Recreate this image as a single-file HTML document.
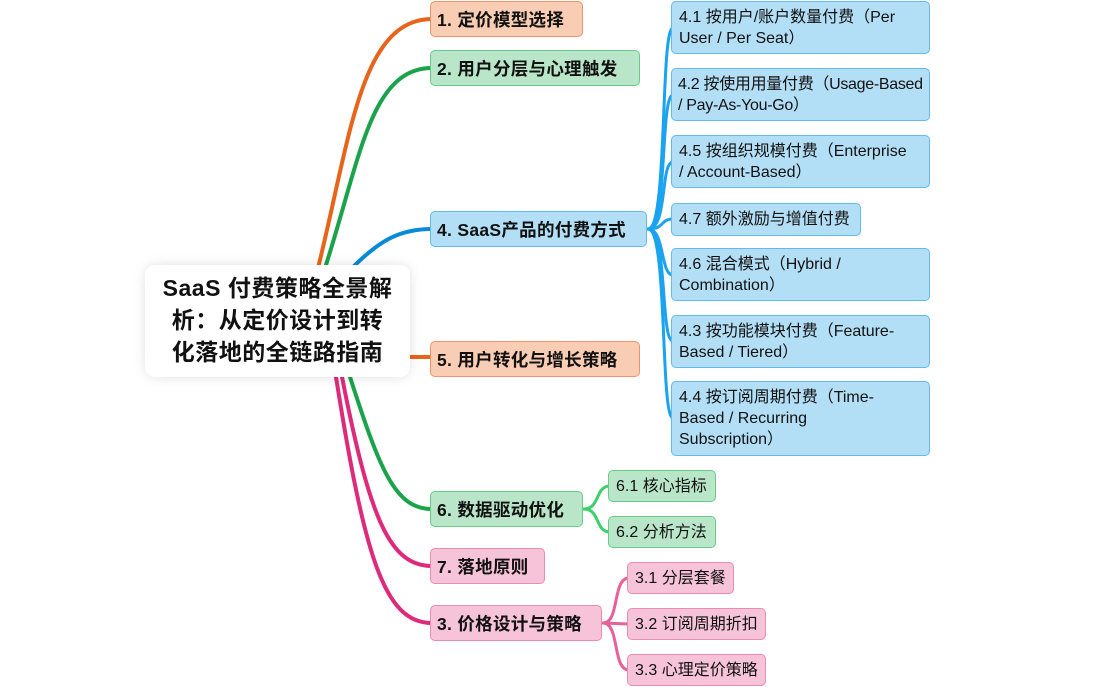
<!DOCTYPE html>
<html><head><meta charset="utf-8"><style>
body{margin:0;width:1098px;height:687px;background:#fff;position:relative;overflow:hidden;font-family:"Liberation Sans","Noto Sans CJK SC",sans-serif;}
.n{position:absolute;box-sizing:border-box;border-radius:5px;border:1.5px solid;color:#111;display:flex;align-items:center;white-space:nowrap;}
.l1{font-weight:bold;font-size:17.5px;padding-left:6px;letter-spacing:0.3px;}
.c{font-size:16px;line-height:21px;padding:0 7px;letter-spacing:0;}
.o{background:#f9cdb4;border-color:#f0936a}
.g{background:#b9e6c9;border-color:#66cc88}
.b{background:#b3dff6;border-color:#62bbea}
.p{background:#f6c3d8;border-color:#e98bb3}
svg{position:absolute;left:0;top:0}
</style></head><body>
<svg width="1098" height="687" fill="none" stroke-linecap="round">
<g stroke-width="4">
<path d="M318 268 C 350 140, 360 19, 432 19" stroke="#e8641c"/>
<path d="M325 268 C 360 160, 370 68, 432 68" stroke="#1aa34a"/>
<path d="M352 268 C 380 240, 400 229, 432 229" stroke="#0a8ad6"/>
<path d="M410 357 L432 357" stroke="#e8641c"/>
<path d="M350 377 C 380 470, 395 509, 432 509" stroke="#1aa34a"/>
<path d="M342 377 C 370 520, 390 566, 432 566" stroke="#de2a7a"/>
<path d="M336 377 C 365 560, 385 623, 432 623" stroke="#de2a7a"/>
</g>
<g stroke="#1aa3ee" stroke-width="3">
<path d="M648 229 C 668 229, 660 28, 673 28"/>
<path d="M648 229 C 668 229, 660 95, 673 95"/>
<path d="M648 229 C 668 229, 660 162, 673 162"/>
<path d="M648 229 C 665 229, 660 219, 673 219"/>
<path d="M648 229 C 665 229, 660 275, 673 275"/>
<path d="M648 229 C 668 229, 660 341, 673 341"/>
<path d="M648 229 C 668 229, 660 418, 673 418"/>
</g>
<g stroke="#3ccf6a" stroke-width="3">
<path d="M584 509 C 600 509, 595 486, 610 486"/>
<path d="M584 509 C 600 509, 595 532, 610 532"/>
</g>
<g stroke="#e8609a" stroke-width="3">
<path d="M603 623 C 620 623, 612 578, 629 578"/>
<path d="M603 623 L629 624"/>
<path d="M603 623 C 620 623, 612 670, 629 670"/>
</g>
</svg>
<div style="position:absolute;left:145px;top:265px;width:265px;height:112px;background:#fff;border-radius:10px;box-shadow:0 0 12px rgba(0,0,0,0.12);font-weight:bold;font-size:23px;line-height:32px;text-align:center;padding-top:7px;box-sizing:border-box;color:#111;letter-spacing:0.5px">SaaS 付费策略全景解<br>析：从定价设计到转<br>化落地的全链路指南</div>
<div class="n l1 o" style="left:430px;top:1px;width:153px;height:36px">1. 定价模型选择</div>
<div class="n l1 g" style="left:430px;top:50px;width:210px;height:36px">2. 用户分层与心理触发</div>
<div class="n l1 b" style="left:430px;top:211px;width:217px;height:36px">4. SaaS产品的付费方式</div>
<div class="n l1 o" style="left:430px;top:341px;width:210px;height:36px">5. 用户转化与增长策略</div>
<div class="n l1 g" style="left:430px;top:491px;width:153px;height:36px">6. 数据驱动优化</div>
<div class="n l1 p" style="left:430px;top:548px;width:115px;height:36px">7. 落地原则</div>
<div class="n l1 p" style="left:430px;top:605px;width:172px;height:36px">3. 价格设计与策略</div>
<div class="n c b" style="left:671px;top:1px;width:259px;height:53px">4.1 按用户/账户数量付费（Per<br>User / Per Seat）</div>
<div class="n c b" style="left:671px;top:68px;width:259px;height:53px;padding:0 4px 0 6px;letter-spacing:-0.3px">4.2 按使用用量付费（Usage-Based<br>/ Pay-As-You-Go）</div>
<div class="n c b" style="left:671px;top:135px;width:259px;height:53px">4.5 按组织规模付费（Enterprise<br>/ Account-Based）</div>
<div class="n c b" style="left:671px;top:203px;width:190px;height:33px">4.7 额外激励与增值付费</div>
<div class="n c b" style="left:671px;top:248px;width:259px;height:53px">4.6 混合模式（Hybrid /<br>Combination）</div>
<div class="n c b" style="left:671px;top:315px;width:259px;height:53px">4.3 按功能模块付费（Feature-<br>Based / Tiered）</div>
<div class="n c b" style="left:671px;top:381px;width:259px;height:75px">4.4 按订阅周期付费（Time-<br>Based / Recurring<br>Subscription）</div>
<div class="n c g" style="left:608px;top:470px;width:108px;height:32px">6.1 核心指标</div>
<div class="n c g" style="left:608px;top:516px;width:108px;height:32px">6.2 分析方法</div>
<div class="n c p" style="left:627px;top:562px;width:107px;height:32px">3.1 分层套餐</div>
<div class="n c p" style="left:627px;top:608px;width:139px;height:32px">3.2 订阅周期折扣</div>
<div class="n c p" style="left:627px;top:654px;width:139px;height:32px">3.3 心理定价策略</div>
</body></html>
